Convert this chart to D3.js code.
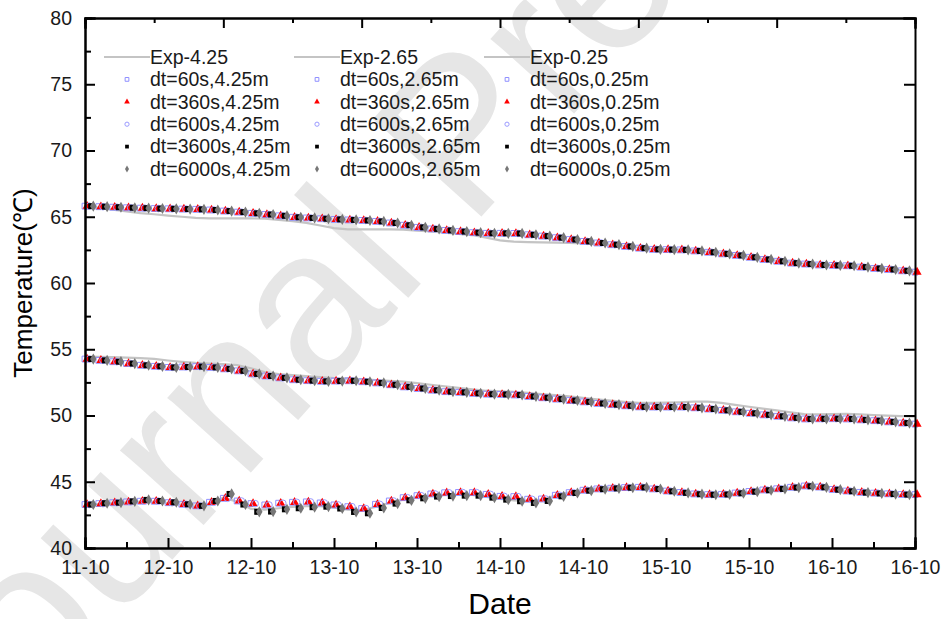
<!DOCTYPE html>
<meta charset="utf-8">
<style>
  body { margin: 0; background: #fff; }
  svg { display: block; font-family: "Liberation Sans", Arial, sans-serif; }
  .axis path, .axis line { stroke: #000; stroke-width: 2; }
  .axis text { font-size: 19.5px; fill: #1a1a1a; }
</style>
<body>
<svg width="944" height="619"></svg>

<script src="https://cdn.jsdelivr.net/npm/d3@7/dist/d3.min.js"></script>
<script>

// sampling times (hours after 11-10 18:00)
var hours = [0,2,4,6,8,10,12,14,16,18,20,22,24,26,28,30,32,34,36,38,40,
  42,44,46,48,50,52,54,56,58,60,62,64,66,68,70,72,74,76,78,80,
  82,84,86,88,90,92,94,96,98,100,102,104,106,108,110,112,114,116,118,120];

// 4.25 m
var exp425 = [65.80,65.67,65.54,65.41,65.28,65.19,65.09,65.00,64.91,64.88,64.88,
  64.88,64.88,64.85,64.76,64.67,64.54,64.34,64.14,64.05,64.05,
  64.05,64.05,64.03,63.96,63.89,63.80,63.71,63.62,63.42,63.22,
  63.12,63.09,63.07,63.04,63.02,62.99,62.94,62.88,62.80,62.68,
  62.58,62.55,62.53,62.46,62.36,62.24,62.12,61.98,61.82,61.68,
  61.55,61.47,61.40,61.37,61.33,61.24,61.14,61.05,60.95,60.85];
var sim425 = [65.80,65.76,65.72,65.68,65.65,65.62,65.60,65.58,65.56,65.51,65.43,
  65.35,65.26,65.17,65.07,64.96,64.91,64.85,64.80,64.76,64.72,
  64.65,64.53,64.36,64.20,64.08,63.97,63.88,63.80,63.75,63.75,
  63.74,63.64,63.54,63.42,63.28,63.14,63.02,62.89,62.76,62.63,
  62.54,62.52,62.50,62.42,62.32,62.20,62.08,61.94,61.78,61.64,
  61.50,61.43,61.36,61.33,61.30,61.20,61.10,61.02,60.92,60.82];

// 2.65 m
var exp265 = [54.45,54.42,54.40,54.37,54.33,54.27,54.15,54.05,53.97,53.92,53.87,
  53.80,53.57,53.28,53.13,53.05,52.97,52.89,52.83,52.78,52.73,
  52.68,52.62,52.55,52.44,52.32,52.20,52.08,51.97,51.87,51.83,
  51.78,51.71,51.62,51.54,51.45,51.34,51.22,51.12,51.03,50.96,
  50.95,50.97,51.00,51.04,51.05,50.95,50.80,50.66,50.52,50.38,
  50.24,50.10,50.08,50.11,50.12,50.08,50.03,49.99,49.95,49.92];
var sim265 = [54.26,54.16,54.06,53.92,53.79,53.71,53.63,53.66,53.69,53.63,53.52,
  53.37,53.14,52.98,52.84,52.70,52.63,52.58,52.60,52.62,52.55,
  52.46,52.32,52.16,52.04,51.91,51.80,51.75,51.67,51.61,51.59,
  51.55,51.44,51.34,51.24,51.13,51.03,50.91,50.82,50.73,50.65,
  50.64,50.64,50.64,50.58,50.49,50.39,50.28,50.17,50.05,49.94,
  49.82,49.74,49.75,49.76,49.74,49.67,49.61,49.52,49.43,49.35];

// 0.25 m
var exp025 = [43.25,43.32,43.38,43.45,43.50,43.48,43.38,43.25,43.10,43.35,43.80,
  43.50,42.95,42.90,43.00,43.10,43.15,43.15,43.05,42.90,42.85,
  43.10,43.40,43.65,43.85,43.95,44.00,44.02,44.00,43.85,43.70,
  43.60,43.55,43.65,43.95,44.20,44.38,44.50,44.55,44.58,44.55,
  44.42,44.25,44.12,44.05,44.00,44.02,44.10,44.22,44.34,44.45,
  44.55,44.62,44.55,44.38,44.26,44.16,44.10,44.05,44.00,44.00];
var sim025Fine = [43.28,43.35,43.42,43.48,43.53,43.53,43.42,43.30,43.18,43.45,43.75,
  43.55,43.35,43.25,43.38,43.45,43.48,43.40,43.25,43.12,42.98,
  43.30,43.55,43.80,43.95,44.08,44.17,44.19,44.18,44.05,43.90,
  43.88,43.68,43.70,43.98,44.18,44.36,44.46,44.51,44.56,44.58,
  44.46,44.30,44.19,44.08,44.03,44.05,44.15,44.27,44.38,44.47,
  44.58,44.68,44.60,44.42,44.30,44.20,44.14,44.09,44.04,44.03];
var sim025Coarse = [43.28,43.38,43.42,43.52,43.63,43.55,43.45,43.30,43.18,43.55,44.08,
  43.28,42.73,42.75,42.92,43.00,43.08,43.12,42.98,42.72,42.62,
  43.02,43.35,43.60,43.75,43.88,43.92,43.95,43.95,43.80,43.65,
  43.53,43.40,43.55,43.90,44.15,44.33,44.44,44.50,44.55,44.57,
  44.45,44.28,44.16,44.06,44.02,44.04,44.13,44.25,44.36,44.46,
  44.56,44.66,44.58,44.40,44.28,44.18,44.12,44.07,44.03,44.02];

var depths = ["4.25", "2.65", "0.25"];
var expByDepth = [exp425, exp265, exp025];
var timeSteps = ["60s", "360s", "600s", "3600s", "6000s"];
// which simulated series belongs to each (depth, dt)
var simByDepth = [
  [sim425, sim425, sim425, sim425, sim425],
  [sim265, sim265, sim265, sim265, sim265],
  [sim025Fine, sim025Fine, sim025Fine, sim025Coarse, sim025Coarse]
];

var yTicks = [40, 45, 50, 55, 60, 65, 70, 75, 80];
var xTickHours = [0, 12, 24, 36, 48, 60, 72, 84, 96, 108, 120];
var startTime = new Date(2019, 9, 11, 18, 0);

// marker look for each time step
var markStyle = [
  {shape: d3.symbolSquare,   size: 34, fill: "none",    stroke: "#8f8fff", shift: 0},
  {shape: d3.symbolTriangle, size: 36, fill: "#ff0000", stroke: "none",    shift: 0.3},
  {shape: d3.symbolCircle,   size: 34, fill: "none",    stroke: "#9a9aff", shift: 0.6},
  {shape: d3.symbolSquare,   size: 36, fill: "#000000", stroke: "none",    shift: 0.9},
  {shape: d3.symbolDiamond,  size: 36, fill: "#777777", stroke: "none",    shift: 1.2}
];

var svg = d3.select("svg"),
    margin = {top: 18, right: 29, bottom: 71, left: 85},
    width = +svg.attr("width") - margin.left - margin.right,
    height = +svg.attr("height") - margin.top - margin.bottom;

function hourToDate(h) { return new Date(startTime.getTime() + h * 3600000); }

var x = d3.scaleTime()
    .domain([hourToDate(0), hourToDate(120)])
    .range([0, width]);
var y = d3.scaleLinear().domain([40, 80]).range([height, 0]);

// watermark behind everything
svg.append("text")
    .attr("transform", "translate(-35,790) rotate(-48)")
    .style("font-size", "212px")
    .style("fill", "#e6e6e6")
    .text("Journal Pre-proof");

var g = svg.append("g")
    .attr("transform", "translate(" + margin.left + "," + margin.top + ")");

// experimental lines
var line = d3.line()
    .x(function(d) { return x(hourToDate(d.h)); })
    .y(function(d) { return y(d.v); });

expByDepth.forEach(function(arr) {
  g.append("path")
      .datum(arr.map(function(v, i) { return {h: hours[i], v: v}; }))
      .attr("fill", "none")
      .attr("stroke", "#c4c4c4")
      .attr("stroke-width", 2.2)
      .attr("d", line);
});

// simulated points
timeSteps.forEach(function(dt, s) {
  var st = markStyle[s];
  var sym = d3.symbol().type(st.shape).size(st.size);
  depths.forEach(function(dep, k) {
    var pts = simByDepth[k][s].map(function(v, i) { return {h: hours[i] + st.shift, v: v}; })
        .filter(function(d) { return d.h <= 120.3; });
    g.append("g").selectAll("path")
        .data(pts)
      .enter().append("path")
        .attr("transform", function(d) { return "translate(" + x(hourToDate(d.h)) + "," + y(d.v) + ")"; })
        .attr("d", sym)
        .attr("fill", st.fill)
        .attr("stroke", st.stroke)
        .attr("stroke-width", 1);
  });
});

// axes
var fmt = d3.timeFormat("%d-%m");
var xAxis = d3.axisBottom(x)
    .tickValues(xTickHours.map(hourToDate))
    .tickFormat(fmt)
    .tickSize(-10)
    .tickPadding(12);
var xMinor = d3.axisBottom(x)
    .tickValues(xTickHours.slice(0, -1).map(function(h) { return hourToDate(h + 6); }))
    .tickFormat("")
    .tickSize(-6);

g.append("g").attr("class", "axis")
    .attr("transform", "translate(0," + height + ")")
    .call(xMinor);
g.append("g").attr("class", "axis")
    .attr("transform", "translate(0," + height + ")")
    .call(xAxis);

// top axis has its own spacing (every 10 h)
var topMinor = d3.axisTop(x)
    .tickValues(d3.range(10, 120, 20).map(hourToDate))
    .tickFormat("").tickSize(-5);
var topMajor = d3.axisTop(x)
    .tickValues(d3.range(0, 121, 20).map(hourToDate))
    .tickFormat("").tickSize(-10);
g.append("g").attr("class", "axis").call(topMinor);
g.append("g").attr("class", "axis").call(topMajor);

var yAxis = d3.axisLeft(y).tickValues(yTicks).tickSize(-10).tickPadding(13);
var yMinor = d3.axisLeft(y).tickValues(yTicks.slice(0, -1).map(function(v) { return v + 2.5; }))
    .tickFormat("").tickSize(-6);
g.append("g").attr("class", "axis").call(yMinor);
g.append("g").attr("class", "axis").call(yAxis);

g.append("g").attr("class", "axis")
    .attr("transform", "translate(" + width + ",0)")
    .call(d3.axisRight(y).tickValues(yTicks).tickFormat("").tickSize(-11));

g.selectAll(".axis .domain").attr("stroke-linecap", "square");

// axis titles
svg.append("text")
    .attr("transform", "translate(32," + (margin.top + y(60)) + ") rotate(-90)")
    .attr("text-anchor", "middle")
    .style("font-size", "26px")
    .text("Temperature(℃)");

svg.append("text")
    .attr("x", margin.left + width / 2)
    .attr("y", 614)
    .attr("text-anchor", "middle")
    .style("font-size", "30px")
    .text("Date");

// legend: one column per depth
var legend = g.append("g").attr("transform", "translate(19,39)");
depths.forEach(function(dep, k) {
  var col = legend.append("g").attr("transform", "translate(" + (k * 190) + ",0)");
  col.append("line")
      .attr("x1", 0).attr("x2", 46)
      .attr("y1", 0).attr("y2", 0)
      .attr("stroke", "#c4c4c4")
      .attr("stroke-width", 2.2);
  col.append("text")
      .attr("x", 46).attr("y", 0).attr("dy", "0.35em")
      .style("font-size", "19.5px")
      .style("fill", "#1a1a1a")
      .text("Exp-" + dep);
  timeSteps.forEach(function(dt, s) {
    var st = markStyle[s];
    var row = col.append("g").attr("transform", "translate(0," + ((s + 1) * 22.4) + ")");
    row.append("path")
        .attr("transform", "translate(23,0)")
        .attr("d", d3.symbol().type(st.shape).size(14))
        .attr("fill", st.fill)
        .attr("stroke", st.stroke)
        .attr("stroke-width", 1);
    row.append("text")
        .attr("x", 46).attr("y", 0).attr("dy", "0.35em")
        .style("font-size", "19.5px")
        .style("fill", "#1a1a1a")
        .text("dt=" + dt + "," + dep + "m");
  });
});

</script>
</body>
